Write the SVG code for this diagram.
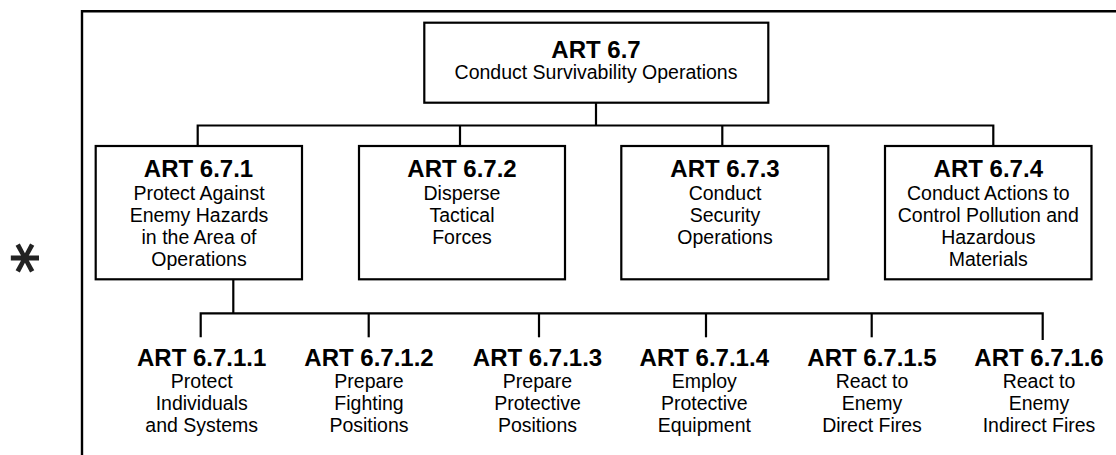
<svg xmlns="http://www.w3.org/2000/svg" width="1116" height="455" viewBox="0 0 1116 455">
<style>
  .box { fill: #ffffff; stroke: #000000; stroke-width: 2.2; }
  .conn { fill: none; stroke: #000000; stroke-width: 2.2; }
  .frame { fill: none; stroke: #000000; stroke-width: 2.4; }
  text { font-family: "Liberation Sans", Arial, sans-serif; fill: #000000; text-anchor: middle; }
  .t { font-weight: bold; font-size: 24px; }
  .d { font-size: 19.5px; }
</style>
<rect width="1116" height="455" fill="#ffffff"/>
<g id="frame">
  <path class="frame" d="M82,456 V11.3 H1117"/>
</g>
<g id="asterisk">
  <text x="24" y="293" transform="translate(-3 0) rotate(-90 24 258)" style="font-family:'DejaVu Sans',sans-serif;font-size:60px;font-weight:bold;fill:#222222;">*</text>
</g>
<g id="connectors">
  <path class="conn" d="M596,103 V125.5"/>
  <path class="conn" d="M197.7,146 V125.5 H993.3 V146"/>
  <path class="conn" d="M460,125.5 V146"/>
  <path class="conn" d="M722.3,125.5 V146"/>
  <path class="conn" d="M233.3,279 V313.3"/>
  <path class="conn" d="M200.7,337.3 V313.3 H1042.7 V340"/>
  <path class="conn" d="M368.7,313.3 V337.3"/>
  <path class="conn" d="M539,313.3 V337.3"/>
  <path class="conn" d="M706,313.3 V337.3"/>
  <path class="conn" d="M871.7,313.3 V337.3"/>
</g>
<g id="art-6-7">
  <rect class="box" x="424.3" y="22.7" width="344" height="80"/>
  <text class="t" x="596" y="58">ART 6.7</text>
  <text class="d" x="596" y="79">Conduct Survivability Operations</text>
</g>
<g id="art-6-7-1">
  <rect class="box" x="95.7" y="146" width="206.3" height="133.3"/>
  <text class="t" x="198.5" y="177">ART 6.7.1</text>
  <text class="d" x="199" y="199.5">Protect Against</text>
  <text class="d" x="199" y="221.7">Enemy Hazards</text>
  <text class="d" x="199" y="243.5">in the Area of</text>
  <text class="d" x="199" y="266">Operations</text>
</g>
<g id="art-6-7-2">
  <rect class="box" x="359" y="146" width="206" height="133.3"/>
  <text class="t" x="462" y="177">ART 6.7.2</text>
  <text class="d" x="462" y="199.5">Disperse</text>
  <text class="d" x="462" y="221.7">Tactical</text>
  <text class="d" x="462" y="243.5">Forces</text>
</g>
<g id="art-6-7-3">
  <rect class="box" x="621.3" y="146" width="207" height="133.3"/>
  <text class="t" x="725" y="177">ART 6.7.3</text>
  <text class="d" x="725" y="199.5">Conduct</text>
  <text class="d" x="725" y="221.7">Security</text>
  <text class="d" x="725" y="243.5">Operations</text>
</g>
<g id="art-6-7-4">
  <rect class="box" x="885" y="146" width="206.5" height="133.3"/>
  <text class="t" x="988.3" y="177">ART 6.7.4</text>
  <text class="d" x="988.3" y="199.5">Conduct Actions to</text>
  <text class="d" x="988.3" y="221.7">Control Pollution and</text>
  <text class="d" x="988.3" y="243.5">Hazardous</text>
  <text class="d" x="988.3" y="266">Materials</text>
</g>
<g id="art-6-7-1-1">
  <text class="t" x="201.7" y="366">ART 6.7.1.1</text>
  <text class="d" x="201.7" y="388.3">Protect</text>
  <text class="d" x="201.7" y="410">Individuals</text>
  <text class="d" x="201.7" y="431.7">and Systems</text>
</g>
<g id="art-6-7-1-2">
  <text class="t" x="369" y="366">ART 6.7.1.2</text>
  <text class="d" x="369" y="388.3">Prepare</text>
  <text class="d" x="369" y="410">Fighting</text>
  <text class="d" x="369" y="431.7">Positions</text>
</g>
<g id="art-6-7-1-3">
  <text class="t" x="537.5" y="366">ART 6.7.1.3</text>
  <text class="d" x="537.5" y="388.3">Prepare</text>
  <text class="d" x="537.5" y="410">Protective</text>
  <text class="d" x="537.5" y="431.7">Positions</text>
</g>
<g id="art-6-7-1-4">
  <text class="t" x="704.3" y="366">ART 6.7.1.4</text>
  <text class="d" x="704.3" y="388.3">Employ</text>
  <text class="d" x="704.3" y="410">Protective</text>
  <text class="d" x="704.3" y="431.7">Equipment</text>
</g>
<g id="art-6-7-1-5">
  <text class="t" x="872" y="366">ART 6.7.1.5</text>
  <text class="d" x="872" y="388.3">React to</text>
  <text class="d" x="872" y="410">Enemy</text>
  <text class="d" x="872" y="431.7">Direct Fires</text>
</g>
<g id="art-6-7-1-6">
  <text class="t" x="1039" y="366">ART 6.7.1.6</text>
  <text class="d" x="1039" y="388.3">React to</text>
  <text class="d" x="1039" y="410">Enemy</text>
  <text class="d" x="1039" y="431.7">Indirect Fires</text>
</g>
</svg>
